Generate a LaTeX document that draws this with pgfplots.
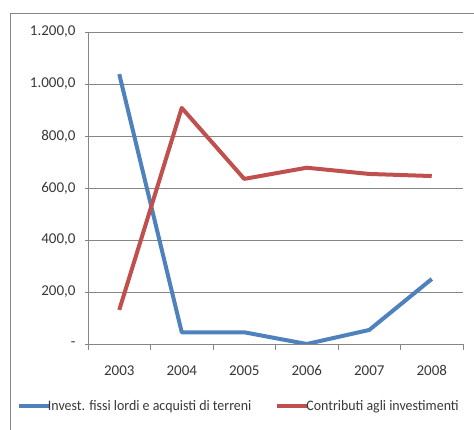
\documentclass[border=0pt]{standalone}
\usepackage{fontspec}
\setmainfont{Carlito}
\newfontfamily\legfont[FakeStretch=0.96]{Carlito}
\usepackage{pgfplots}
\pgfplotsset{compat=1.18}
\definecolor{xlblue}{HTML}{4F81BD}
\definecolor{xlred}{HTML}{C0504D}
\definecolor{xlgrid}{HTML}{868686}
\definecolor{xltext}{HTML}{383838}
\begin{document}
\begin{tikzpicture}[x=1pt,y=1pt]
\useasboundingbox (0,0) rectangle (474,430);
\draw[xlgrid, line width=1pt] (10,-2) -- (10,416) -- (480,416);
\begin{axis}[
  at={(88pt,86pt)}, anchor=south west,
  scale only axis, width=375pt, height=312pt,
  xmin=-0.5, xmax=5.5, ymin=0, ymax=1200,
  axis x line*=bottom, axis y line*=left,
  axis line style={xlgrid, line width=0.8pt},
  xtick={0,...,5},
  xticklabels={2003,2004,2005,2006,2007,2008},
  x tick style={draw=none},
  extra x ticks={-0.5,0.5,...,5.5},
  extra x tick labels={},
  extra x tick style={grid=none, x tick style={draw=xlgrid, line width=0.8pt}, major tick length=6pt, tick align=outside},
  ytick={0,200,...,1200},
  yticklabels={{-},{200,0},{400,0},{600,0},{800,0},{1.000,0},{1.200,0}},
  y tick style={draw=xlgrid, line width=0.8pt},
  major tick length=3pt, tick align=outside,
  ymajorgrids, grid style={xlgrid, line width=0.8pt},
  tick label style={font=\fontsize{15}{17}\selectfont, text=xltext},
  xticklabel style={yshift=-15pt},
  yticklabel style={xshift=-6pt},
  legend style={at={(-0.19,-0.2)}, anchor=west, draw=none, fill=none,
    font=\legfont\fontsize{14.5}{16}\selectfont, text=xltext, inner sep=0pt,
    /tikz/every even column/.append style={column sep=22pt}},
  legend columns=2,
  legend cell align=left,
  legend image code/.code={\draw[#1, line width=4pt] (0pt,0pt) -- (30pt,0pt);},
]
\addplot[xlblue, line width=4pt, line join=round] coordinates {(0,1038) (1,45) (2,45) (3,0) (4,54) (5,250)};
\addlegendentry{\hspace{-5pt}Invest. fissi lordi e acquisti di terreni}
\addplot[xlred, line width=4pt, line join=round] coordinates {(0,131) (1,908) (2,635) (3,678) (4,654) (5,646)};
\addlegendentry{\hspace{-5pt}Contributi agli investimenti}
\end{axis}
\end{tikzpicture}
\end{document}
